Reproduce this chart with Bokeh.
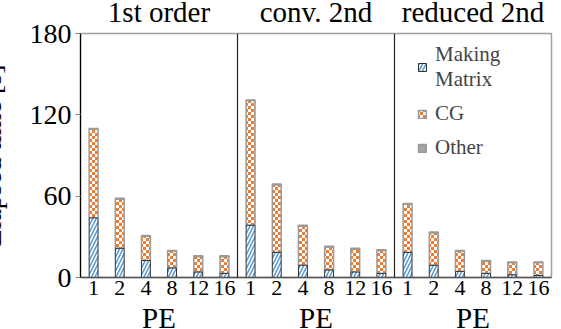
import base64, struct, zlib
import numpy as np
from bokeh.plotting import figure
from bokeh.models import (ColumnDataSource, FixedTicker, Span, LinearAxis,
                          Legend, LegendItem, ImageURLTexture)
from bokeh.core.properties import value
from bokeh.transform import stack
from bokeh.embed import file_html
from bokeh.resources import INLINE

# ---------------- data ----------------
groups = ["1st order", "conv. 2nd", "reduced 2nd"]
pe_labels = ["1", "2", "4", "8", "12", "16"]
making = [44, 21.5, 12.5, 7, 4, 3,
          38.5, 18.5, 9, 5.5, 4, 3,
          18.5, 9, 4.5, 3, 2, 1.5]
cg = [65.5, 36.5, 18, 12.5, 11.5, 12.5,
      92, 50, 29, 17, 17, 17,
      35.5, 24, 15, 9, 9, 9.5]
other = [0.5, 0.5, 0.5, 0.5, 0.5, 0.5,
         0.5, 0.5, 0.5, 0.5, 0.5, 0.5,
         0.5, 0.5, 0.5, 0.5, 0.5, 0.5]
yticks = [0, 60, 120, 180]
ylabel = "Elapsed time [s]"
xlabel = "PE"

FONT = "Liberation Serif"
BLUE = "#5b9bd5"
ORANGE = "#ed7d31"
GRAY = "#a5a5a5"

n_pe = len(pe_labels)
n_all = n_pe * len(groups)
xs = np.arange(n_all) + 0.5
centers = [k * n_pe + n_pe / 2 for k in range(len(groups))]

src = ColumnDataSource(dict(x=xs, making=making, cg=cg, other=other))


# orange / white checkerboard tile as a small PNG texture
def _png(w, h, rows):
    raw = b"".join(b"\x00" + bytes(r) for r in rows)

    def chunk(t, d):
        return struct.pack(">I", len(d)) + t + d + struct.pack(">I", zlib.crc32(t + d) & 0xffffffff)
    return (b"\x89PNG\r\n\x1a\n" + chunk(b"IHDR", struct.pack(">IIBBBBB", w, h, 8, 2, 0, 0, 0))
            + chunk(b"IDAT", zlib.compress(raw)) + chunk(b"IEND", b""))


cell = 3
c_on = (0xed, 0x7d, 0x31)
c_off = (255, 255, 255)
tile = []
for yy in range(2 * cell):
    row = []
    for xx in range(2 * cell):
        row.extend(c_on if ((xx // cell) + (yy // cell)) % 2 == 0 else c_off)
    tile.append(row)
checker = ImageURLTexture(url="data:image/png;base64,"
                          + base64.b64encode(_png(2 * cell, 2 * cell, tile)).decode(),
                          repetition="repeat")

p = figure(width=581, height=344, output_backend="svg", toolbar_location=None,
           x_range=(0, n_all), y_range=(yticks[0], yticks[-1]),
           min_border_left=10, min_border_right=2, min_border_top=10, min_border_bottom=10)
p.margin = (-8, 0, -15, -28)
p.background_fill_color = "white"
p.border_fill_color = "white"
p.outline_line_color = "#a0a0a0"
p.outline_line_width = 1.5
p.xgrid.visible = False
p.ygrid.visible = False

BW = 0.34
r_cg = p.vbar(x="x", bottom=stack("making"), top=stack("making", "cg"), width=BW, source=src,
              fill_color="white", hatch_pattern=value("checker"), hatch_extra={"checker": checker},
              hatch_color=ORANGE,
              line_color="#9a9a9a", line_width=1.5)
r_ot = p.vbar(x="x", bottom=stack("making", "cg"), top=stack("making", "cg", "other"), width=BW,
              source=src, fill_color=GRAY, line_color="#9a9a9a", line_width=1.5)
r_mm = p.vbar(x="x", bottom=0, top=stack("making"), width=BW, source=src,
              fill_color="white", hatch_pattern="/", hatch_color=BLUE, hatch_scale=7,
              hatch_weight=1.6, line_color="#333333", line_width=1)

# dividers between panels
for k in range(1, len(groups)):
    p.add_layout(Span(location=k * n_pe, dimension="height", line_color="#222222", line_width=1.2))

# y axis
p.yaxis.ticker = FixedTicker(ticks=yticks)
p.yaxis.major_label_text_font = FONT
p.yaxis.major_label_text_font_size = "28px"
p.yaxis.major_label_text_color = "black"
p.yaxis.axis_line_color = "black"
p.yaxis.axis_line_width = 1.2
p.yaxis.major_tick_in = 0
p.yaxis.major_tick_out = 5
p.yaxis.major_tick_line_color = "#888888"
p.yaxis.minor_tick_line_color = None
p.yaxis.minor_tick_out = 0
p.yaxis.major_label_standoff = 4
p.yaxis.axis_label = ylabel
p.yaxis.axis_label_text_font = FONT
p.yaxis.axis_label_text_font_size = "28px"
p.yaxis.axis_label_text_font_style = "normal"
p.yaxis.axis_label_text_color = "#000000"
p.yaxis.axis_label_standoff = 20

# x axis (PE values)
p.xaxis.ticker = FixedTicker(ticks=list(xs))
p.xaxis.major_label_overrides = {float(x): pe_labels[i % n_pe] for i, x in enumerate(xs)}
p.xaxis.major_label_text_font = FONT
p.xaxis.major_label_text_font_size = "22px"
p.xaxis.major_label_text_color = "black"
p.xaxis.axis_line_color = "#555555"
p.xaxis.axis_line_width = 1.5
p.xaxis.major_tick_line_color = None
p.xaxis.minor_tick_line_color = None
p.xaxis.major_tick_out = 0
p.xaxis.minor_tick_out = 0
p.xaxis.major_label_standoff = 3


def text_axis(ticks, labels, size, standoff):
    ax = LinearAxis(ticker=FixedTicker(ticks=ticks),
                    major_label_overrides={float(c): t for c, t in zip(ticks, labels)})
    ax.axis_line_color = None
    ax.major_tick_line_color = None
    ax.minor_tick_line_color = None
    ax.major_tick_out = 0
    ax.major_tick_in = 0
    ax.minor_tick_out = 0
    ax.minor_tick_in = 0
    ax.major_label_text_font = FONT
    ax.major_label_text_font_size = size
    ax.major_label_text_color = "black"
    ax.major_label_standoff = standoff
    return ax


# "PE" labels below each panel, panel titles above
p.add_layout(text_axis(centers, [xlabel] * len(groups), "29px", 4), "below")
p.add_layout(text_axis(centers, groups, "29px", 6), "above")

legend = Legend(items=[LegendItem(label="Making\nMatrix", renderers=[r_mm]),
                       LegendItem(label="CG", renderers=[r_cg]),
                       LegendItem(label="Other", renderers=[r_ot])],
                location=(337, 117))
legend.border_line_color = None
legend.background_fill_alpha = 0
legend.label_text_font = FONT
legend.label_text_font_size = "21px"
legend.glyph_width = 10
legend.glyph_height = 10
legend.label_standoff = 8
legend.padding = 0
legend.margin = 0
legend.spacing = 9
p.add_layout(legend)

open("out.html", "w").write(file_html(p, INLINE))
